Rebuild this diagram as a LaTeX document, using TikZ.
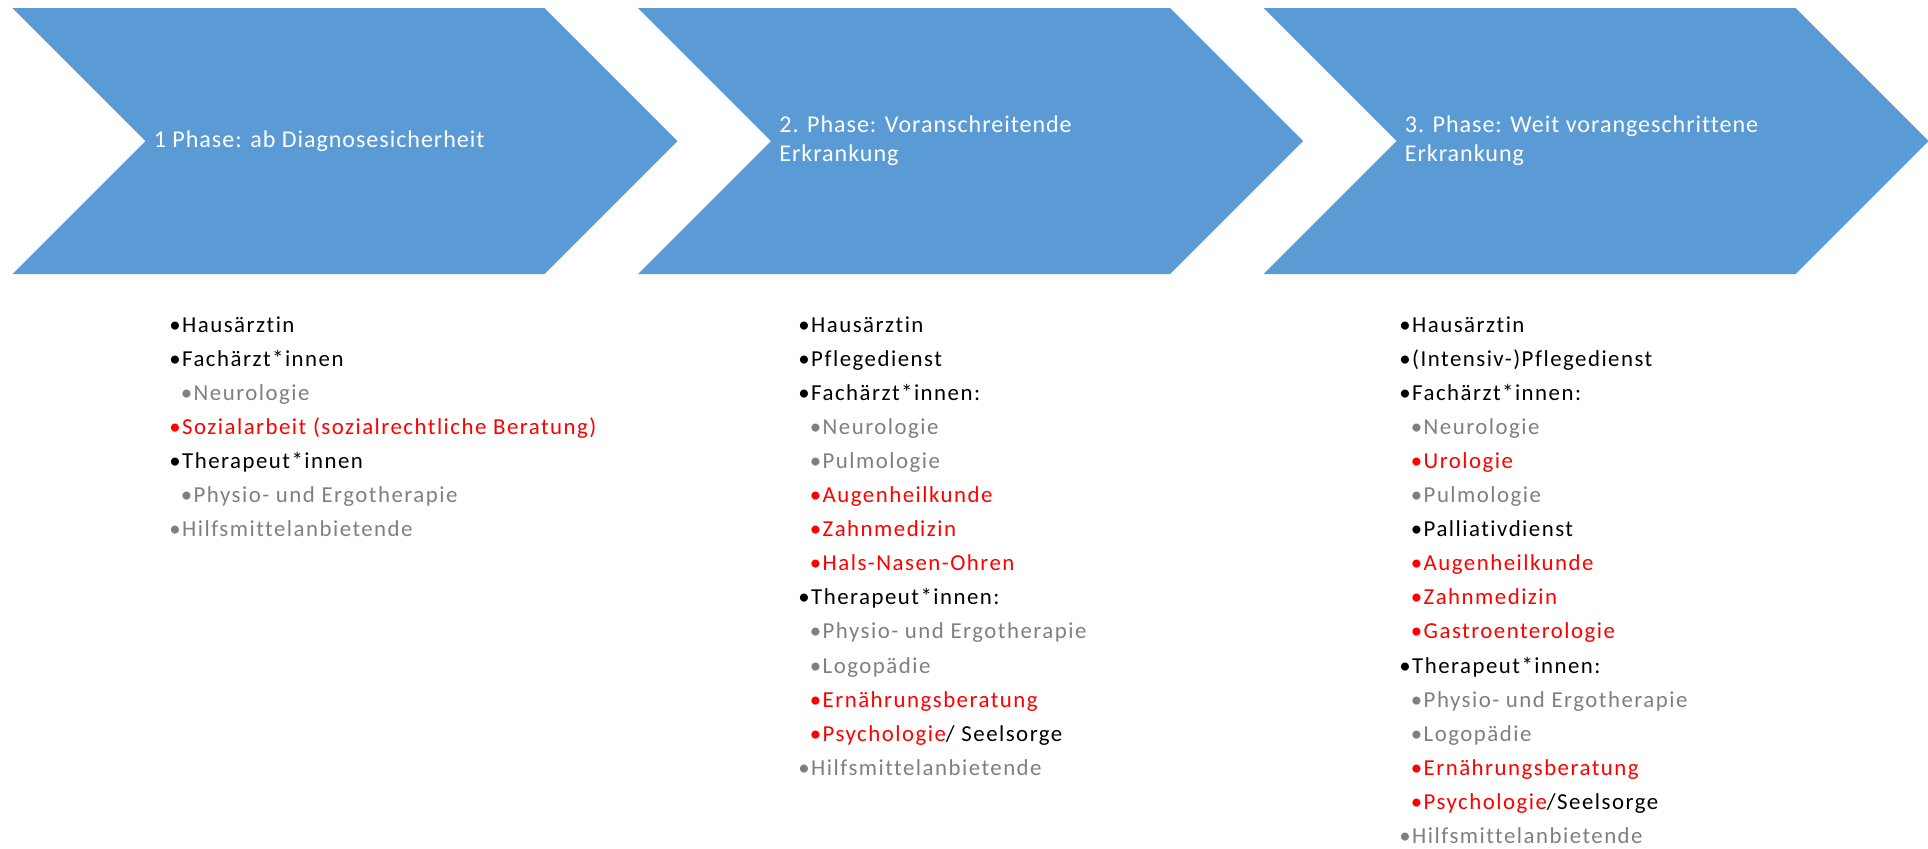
\documentclass[tikz,border=0pt]{standalone}
\usepackage{fontspec}
\setmainfont{Carlito}[Ligatures=NoCommon]
\newfontfamily\titelfont{Carlito}[Ligatures=NoCommon,LetterSpace=4]
\newfontfamily\listenfont{Carlito}[Ligatures=NoCommon,LetterSpace=6.5]

\definecolor{phaseblue}{HTML}{5B9BD5}
\definecolor{itemgray}{HTML}{7F7F7F}
\definecolor{itemred}{HTML}{FF0000}

% list entries: top level and indented sub level
\newcommand{\punkt}[2]{{\color{#1}•#2}}
\newcommand{\unterpunkt}[2]{\hspace*{0.23cm}{\color{#1}•#2}}

\tikzset{
  phase/.style={fill=phaseblue, draw=none},
  phasetitle/.style={anchor=west, inner sep=0pt, text=white, align=left,
    font=\titelfont\fontsize{13.7}{16.7}\selectfont},
  liste/.style={anchor=north west, inner sep=0pt, align=left,
    font=\listenfont\fontsize{13}{19.4}\selectfont},
}

\begin{document}
\begin{tikzpicture}
    \useasboundingbox (0,0) rectangle (38.56,-16.96);

    % the three phase arrows
    \foreach \i in {0,1,2} {
        \fill[phase] (0.25+12.51*\i,-0.16) -- ++(10.64,0) -- ++(2.66,-2.66)
            -- ++(-2.66,-2.66) -- ++(-10.64,0) -- ++(2.66,2.66) -- cycle;
        \coordinate (kerbe\i) at (2.91+12.51*\i,-2.82);
    }

    \node[phasetitle] (titel1) at ([xshift=0.16cm]kerbe0)
        {1 Phase: ab Diagnosesicherheit};
    \node[phasetitle] (titel2) at ([xshift=0.16cm]kerbe1)
        {2. Phase: Voranschreitende\\Erkrankung};
    \node[phasetitle] (titel3) at ([xshift=0.16cm]kerbe2)
        {3. Phase: Weit vorangeschrittene\\Erkrankung};

    % who is involved in each phase
    \node[liste] (liste1) at (3.38,-6.32) {
        \punkt{black}{Hausärztin}\\
        \punkt{black}{Fachärzt*innen}\\
        \unterpunkt{itemgray}{Neurologie}\\
        \punkt{itemred}{Sozialarbeit (sozialrechtliche Beratung)}\\
        \punkt{black}{Therapeut*innen}\\
        \unterpunkt{itemgray}{Physio- und Ergotherapie}\\
        \punkt{itemgray}{Hilfsmittelanbietende}
    };
    \node[liste] (liste2) at (15.96,-6.32) {
        \punkt{black}{Hausärztin}\\
        \punkt{black}{Pflegedienst}\\
        \punkt{black}{Fachärzt*innen:}\\
        \unterpunkt{itemgray}{Neurologie}\\
        \unterpunkt{itemgray}{Pulmologie}\\
        \unterpunkt{itemred}{Augenheilkunde}\\
        \unterpunkt{itemred}{Zahnmedizin}\\
        \unterpunkt{itemred}{Hals-Nasen-Ohren}\\
        \punkt{black}{Therapeut*innen:}\\
        \unterpunkt{itemgray}{Physio- und Ergotherapie}\\
        \unterpunkt{itemgray}{Logopädie}\\
        \unterpunkt{itemred}{Ernährungsberatung}\\
        \unterpunkt{itemred}{Psychologie\color{black}/ Seelsorge}\\
        \punkt{itemgray}{Hilfsmittelanbietende}
    };
    \node[liste] (liste3) at (27.98,-6.32) {
        \punkt{black}{Hausärztin}\\
        \punkt{black}{(Intensiv-)Pflegedienst}\\
        \punkt{black}{Fachärzt*innen:}\\
        \unterpunkt{itemgray}{Neurologie}\\
        \unterpunkt{itemred}{Urologie}\\
        \unterpunkt{itemgray}{Pulmologie}\\
        \unterpunkt{black}{Palliativdienst}\\
        \unterpunkt{itemred}{Augenheilkunde}\\
        \unterpunkt{itemred}{Zahnmedizin}\\
        \unterpunkt{itemred}{Gastroenterologie}\\
        \punkt{black}{Therapeut*innen:}\\
        \unterpunkt{itemgray}{Physio- und Ergotherapie}\\
        \unterpunkt{itemgray}{Logopädie}\\
        \unterpunkt{itemred}{Ernährungsberatung}\\
        \unterpunkt{itemred}{Psychologie\color{black}/Seelsorge}\\
        \punkt{itemgray}{Hilfsmittelanbietende}
    };
\end{tikzpicture}
\end{document}
